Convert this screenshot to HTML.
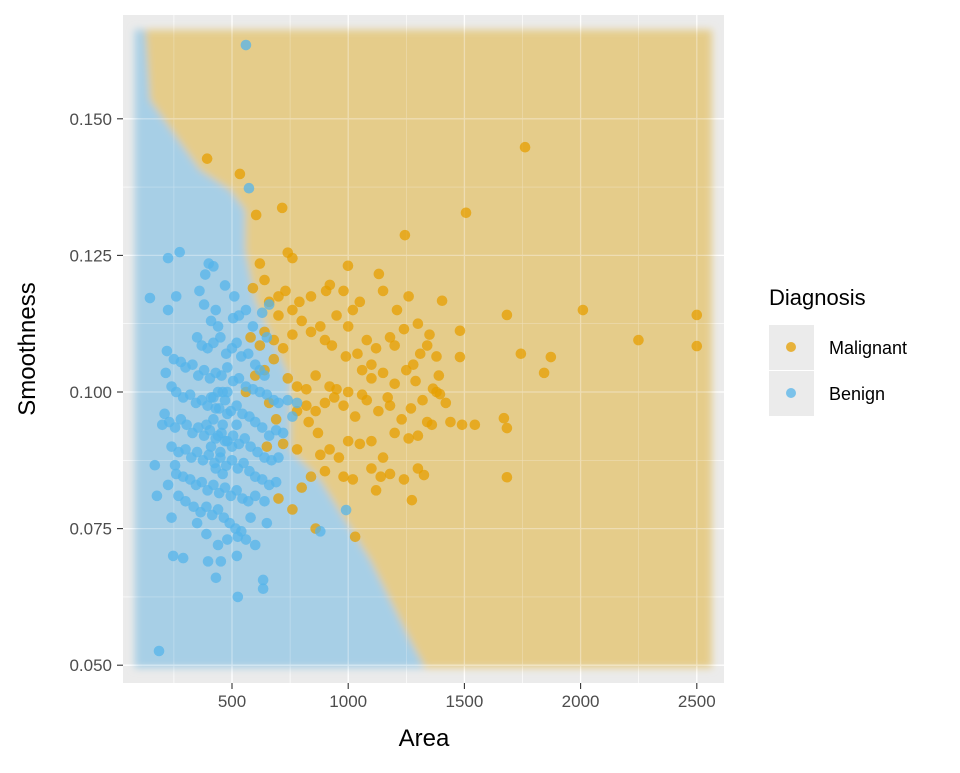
<!DOCTYPE html>
<html><head><meta charset="utf-8"><style>
html,body{margin:0;padding:0;background:#fff;}
svg text{font-family:"Liberation Sans",sans-serif;}
</style></head><body>
<svg id="chart" width="960" height="768" xmlns="http://www.w3.org/2000/svg">
<defs><filter id="blur" x="-10%" y="-10%" width="120%" height="120%"><feGaussianBlur stdDeviation="4"/></filter>
<clipPath id="pclip"><rect x="123" y="15" width="601" height="668"/></clipPath></defs>
<rect x="123" y="15" width="601" height="668" fill="#ebebeb"/>
<g id="grid"></g>
<g id="region" clip-path="url(#pclip)"></g>
<g id="grid2" opacity="0.35"></g>
<g id="points" clip-path="url(#pclip)"></g>
<g id="axes"></g>
<text x="424" y="746" font-size="24" text-anchor="middle" fill="#000">Area</text>
<text transform="translate(35,349) rotate(-90)" font-size="24" text-anchor="middle" fill="#000">Smoothness</text>
<g>
<text x="769" y="305" font-size="22" fill="#000">Diagnosis</text>
<rect x="769" y="325" width="45" height="45" fill="#ebebeb"/>
<circle cx="791" cy="347" r="5" fill="#E69F00" fill-opacity="0.75"/>
<text x="829" y="354" font-size="18" fill="#000">Malignant</text>
<rect x="769" y="371" width="45" height="45" fill="#ebebeb"/>
<circle cx="791" cy="393" r="5" fill="#56B4E9" fill-opacity="0.75"/>
<text x="829" y="400" font-size="18" fill="#000">Benign</text>
</g>
</svg>
<script>
const xTicks=[500,1000,1500,2000,2500];
const yTicks=[0.050,0.075,0.100,0.125,0.150];
const yTickLabels=["0.050","0.075","0.100","0.125","0.150"];
const regionArea=[82,2565];
const regionSmooth=[0.0495,0.1663];
const boundaryArea=[126,147,362,491,556,556,599,750,750,879,1094,1266,1330];
const boundarySmooth=[0.1663,0.1534,0.1406,0.1370,0.1333,0.1260,0.1168,0.1022,0.0894,0.0839,0.0693,0.0546,0.0495];
const benignArea=[186,147,560,573,225,275,521,525,634,634,255,177,168,247,290,431,397,452,991,880,
400,385,420,360,470,510,380,430,410,440,505,530,560,590,630,660,650,225,260,
350,370,395,420,450,475,500,520,540,570,600,620,640,
220,250,280,300,330,355,380,405,430,455,480,505,530,560,590,620,650,680,700,740,780,760,
215,240,260,290,320,345,370,395,420,445,470,495,520,545,575,600,630,660,690,720,
210,230,255,280,305,330,355,380,405,430,455,480,505,530,555,580,610,640,670,700,
200,240,270,300,325,350,375,400,425,450,475,500,525,550,575,600,630,660,690,
260,290,320,345,370,395,420,445,470,495,520,545,570,600,640,
225,270,300,335,365,390,415,440,465,490,515,540,560,600,580,350,390,440,480,525,650,240,
420,440,460,410,450,470,430,460,500,480,390,520,440,460,480,430,410];
const benignSmooth=[0.0526,0.1172,0.1635,0.1373,0.1245,0.1256,0.070,0.0625,0.0656,0.064,0.0866,0.081,0.0866,0.070,0.0696,0.066,0.069,0.069,0.0784,0.0745,
0.1235,0.1215,0.1230,0.1185,0.1195,0.1175,0.1160,0.1150,0.1130,0.1120,0.1135,0.1140,0.1150,0.1120,0.1145,0.1160,0.1100,0.115,0.1175,
0.110,0.1085,0.108,0.109,0.1100,0.107,0.108,0.109,0.1065,0.1070,0.105,0.1040,0.103,
0.1075,0.1060,0.1055,0.1045,0.1050,0.1030,0.1040,0.1025,0.1035,0.1030,0.1045,0.1020,0.1025,0.1010,0.1005,0.1000,0.0995,0.0985,0.098,0.0985,0.0980,0.0955,
0.1035,0.1010,0.1000,0.0990,0.0995,0.0980,0.0985,0.0975,0.0990,0.0970,0.0985,0.0965,0.0975,0.0960,0.0955,0.0945,0.0935,0.0920,0.0930,0.0925,
0.0960,0.0945,0.0935,0.0950,0.0940,0.0925,0.0935,0.0920,0.0930,0.0915,0.0925,0.0910,0.0920,0.0905,0.0915,0.0900,0.0890,0.0880,0.0875,0.0880,
0.0940,0.0900,0.0890,0.0895,0.0880,0.0890,0.0875,0.0885,0.0870,0.0880,0.0865,0.0875,0.0860,0.0870,0.0855,0.0845,0.0840,0.0830,0.0835,
0.0850,0.0845,0.0840,0.0830,0.0835,0.0820,0.0830,0.0815,0.0825,0.0810,0.0820,0.0805,0.0800,0.0810,0.0800,
0.0830,0.0810,0.0800,0.0790,0.0780,0.0790,0.0775,0.0785,0.0770,0.0760,0.0750,0.0745,0.0730,0.0720,0.0770,0.0760,0.0740,0.0720,0.0730,0.0735,0.0760,0.0770,
0.095,0.092,0.094,0.090,0.089,0.091,0.086,0.085,0.090,0.096,0.094,0.094,0.1,0.100,0.100,0.097,0.099];
const malignantArea=[1761,2500,2500,2249,2010,1872,1843,1743,1683,1683,1670,1683,1507,1481,1481,1490,1545,1404,1365,1395,1326,1274,1244,1132,534,393,716,604,999,921,
740,760,640,620,590,700,660,730,790,840,905,980,1020,1050,1150,1210,1260,1300,1340,1380,1240,1180,1120,1080,1040,990,930,880,900,840,800,760,720,680,740,780,820,860,950,1000,1060,1100,1150,1200,1250,1290,1320,1270,1230,1180,1130,1080,1030,980,940,900,860,820,780,830,870,920,960,1000,1050,1100,1150,1200,1260,1300,1340,1140,1100,1180,1240,1020,980,900,880,840,800,760,700,860,1030,1120,1300,
1380,1390,1420,1440,1360,1310,1280,1350,1200,1000,950,1060,1100,1170,920,680,640,620,700,580,600,560,660,690,720,650,780,640,760];
const malignantSmooth=[0.1448,0.1141,0.1084,0.1095,0.115,0.1064,0.1035,0.107,0.1141,0.0844,0.0952,0.0934,0.1328,0.1112,0.1064,0.094,0.094,0.1167,0.1006,0.0996,0.0848,0.0802,0.1287,0.1216,0.1399,0.1427,0.1337,0.1324,0.1231,0.1196,
0.1255,0.1245,0.1205,0.1235,0.1190,0.1175,0.1165,0.1185,0.1165,0.1175,0.1185,0.1185,0.115,0.1165,0.1185,0.115,0.1175,0.1125,0.1085,0.1065,0.1115,0.1100,0.108,0.1095,0.1070,0.1065,0.1085,0.112,0.1095,0.111,0.1130,0.1105,0.108,0.1095,0.1025,0.1010,0.1005,0.1030,0.1005,0.1000,0.0995,0.1025,0.1035,0.1015,0.1040,0.1020,0.0985,0.0970,0.0950,0.0975,0.0965,0.0985,0.0955,0.0975,0.0990,0.0980,0.0965,0.0975,0.0965,0.0945,0.0925,0.0895,0.0880,0.0910,0.0905,0.0910,0.0880,0.0925,0.0915,0.0920,0.0945,0.0845,0.0860,0.0850,0.0840,0.0840,0.0845,0.0855,0.0885,0.0845,0.0825,0.0785,0.0805,0.0750,0.0735,0.0820,0.0860,
0.1000,0.1030,0.0980,0.0945,0.0940,0.1070,0.1050,0.1105,0.1085,0.1120,0.1140,0.1040,0.1050,0.0990,0.1010,0.1060,0.1040,0.1085,0.1140,0.1100,0.1030,0.1000,0.0980,0.0950,0.0905,0.0900,0.0895,0.1110,0.1150];

const NS="http://www.w3.org/2000/svg";
const X=a=>115.8+0.2324*a;
const Y=s=>392-(s-0.1)*5464;
function mk(tag,attrs,parent){const e=document.createElementNS(NS,tag);for(const k in attrs)e.setAttribute(k,attrs[k]);parent.appendChild(e);return e;}
const axes=document.getElementById('axes'),region=document.getElementById('region'),pts=document.getElementById('points');
function drawGrid(g){
for(let i=0;i<xTicks.length;i++){const a=xTicks[i]-250;const l=mk('line',{x1:X(a),x2:X(a),y1:15,y2:683,stroke:'#fff','stroke-width':0.6},g);

}
for(let i=0;i<yTicks.length-1;i++){const s=yTicks[i]+0.0125;const l=mk('line',{x1:123,x2:724,y1:Y(s),y2:Y(s),stroke:'#fff','stroke-width':0.6},g);

}
xTicks.forEach(t=>{const l=mk('line',{x1:X(t),x2:X(t),y1:15,y2:683,stroke:'#fff','stroke-width':1.3},g);

});
yTicks.forEach(t=>{const l=mk('line',{x1:123,x2:724,y1:Y(t),y2:Y(t),stroke:'#fff','stroke-width':1.3},g);

});
}
drawGrid(document.getElementById('grid'));
drawGrid(document.getElementById('grid2'));
xTicks.forEach(t=>{
const tk=mk('line',{x1:X(t),x2:X(t),y1:683,y2:689,stroke:'#333','stroke-width':1.1},axes);


const tx=mk('text',{x:X(t),y:707,'font-size':17,'text-anchor':'middle',fill:'#4d4d4d'},axes);tx.textContent=String(t);

});
yTicks.forEach((t,i)=>{
const tk=mk('line',{x1:117,x2:123,y1:Y(t),y2:Y(t),stroke:'#333','stroke-width':1.1},axes);


const tx=mk('text',{x:112,y:Y(t)+6,'font-size':17,'text-anchor':'end',fill:'#4d4d4d'},axes);tx.textContent=yTickLabels[i];

});
// region
const rg=mk('g',{filter:'url(#blur)'},region);
const r1=mk('rect',{x:X(regionArea[0]),y:Y(regionSmooth[1]),width:X(regionArea[1])-X(regionArea[0]),height:Y(regionSmooth[0])-Y(regionSmooth[1]),fill:'#e5cc8a'},rg);


let d='M'+X(regionArea[0])+','+Y(regionSmooth[1]);
for(let i=0;i<boundaryArea.length;i++)d+=' L'+X(boundaryArea[i])+','+Y(boundarySmooth[i]);
d+=' L'+X(regionArea[0])+','+Y(regionSmooth[0])+' Z';
const r2=mk('path',{d:d,fill:'#a7cfe6'},rg);


// points
for(let i=0;i<malignantArea.length;i++){const c=mk('circle',{cx:X(malignantArea[i]),cy:Y(malignantSmooth[i]),r:5.3,fill:'#E69F00','fill-opacity':0.75},pts);

}
for(let i=0;i<benignArea.length;i++){const c=mk('circle',{cx:X(benignArea[i]),cy:Y(benignSmooth[i]),r:5.3,fill:'#56B4E9','fill-opacity':0.75},pts);

}
</script>
</body></html>
